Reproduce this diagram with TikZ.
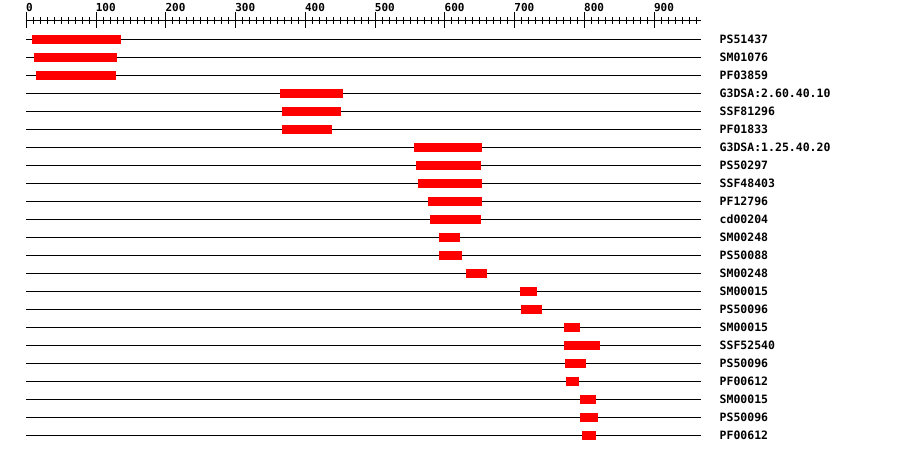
\documentclass[tikz,border=0pt]{standalone}
\usepackage{fontspec}
\setmonofont{DejaVu Sans Mono}
\begin{document}
\begin{tikzpicture}[x=1pt,y=-1pt,
rule/.style={draw=black,line width=1pt},
hit/.style={fill=red},
lbl/.style={font=\ttfamily\bfseries\fontsize{11.5}{12}\selectfont,anchor=west,inner sep=0pt},
scl/.style={font=\ttfamily\bfseries\fontsize{11}{12}\selectfont,anchor=west,inner sep=0pt}]
\useasboundingbox(0,0)rectangle(900,454);

% scale
\draw[rule](26,20.5)--(701,20.5);
\foreach \v in {0,10,...,960}{
 \pgfmathsetmacro\xx{26.3+0.6978*\v}
 \draw[rule](\xx,17.5)--(\xx,24.5);
}
\foreach \v in {0,100,...,900}{
 \pgfmathsetmacro\xx{26.3+0.6978*\v}
 \draw[rule](\xx,12.5)--(\xx,28.5);
 \node[scl](tick\v)at(\xx-0.5,7.5){\v};
}

% domain rows
\foreach \lab/\s/\e [count=\i] in {PS51437/32/121,SM01076/34/117,PF03859/36/116,
 G3DSA:2.60.40.10/280/343,SSF81296/282/341,PF01833/282/332,
 G3DSA:1.25.40.20/414/482,PS50297/416/481,SSF48403/418/482,PF12796/428/482,cd00204/430/481,
 SM00248/439/460,PS50088/439/462,SM00248/466/487,SM00015/520/537,PS50096/521/542,
 SM00015/564/580,SSF52540/564/600,PS50096/565/586,PF00612/566/579,
 SM00015/580/596,PS50096/580/598,PF00612/582/596}{
 \pgfmathsetmacro\yy{39.3+18*(\i-1)}
 \draw[rule](26,\yy)--(701,\yy);
 \fill[hit](\s,\yy-4.5)rectangle(\e,\yy+4.5);
 \node[lbl](row\i)at(719.5,\yy){\lab};
}
\end{tikzpicture}
\end{document}
